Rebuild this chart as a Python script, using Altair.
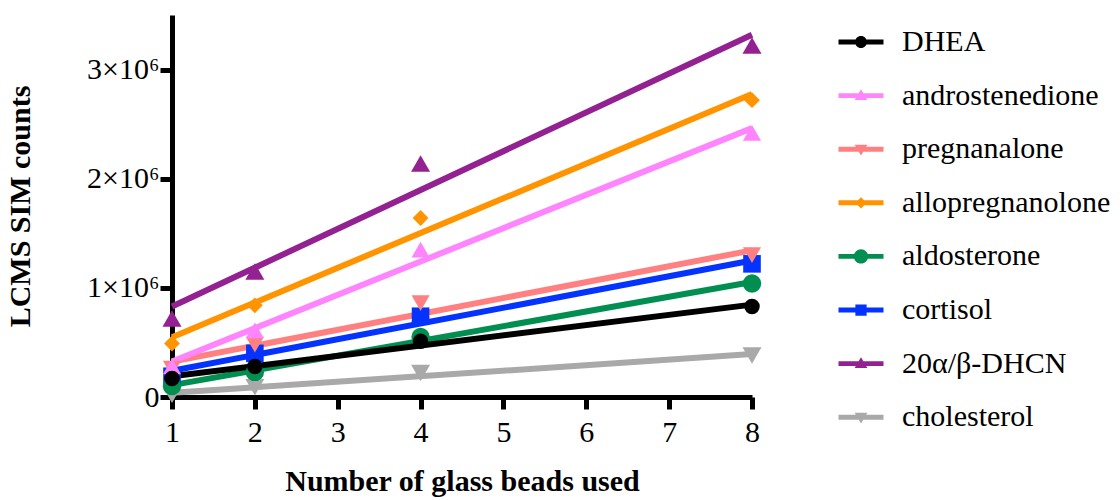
import altair as alt
import pandas as pd

# ---- data ----
series = ["DHEA", "androstenedione", "pregnanalone", "allopregnanolone",
          "aldosterone", "cortisol", "20α/β-DHCN", "cholesterol"]
beads = [1, 2, 4, 8]
dhea = [170000, 280000, 510000, 830000]
androstenedione = [280000, 610000, 1350000, 2420000]
pregnanalone = [260000, 480000, 860000, 1300000]
allopregnanolone = [490000, 840000, 1640000, 2720000]
aldosterone = [100000, 230000, 550000, 1040000]
cortisol = [190000, 400000, 740000, 1220000]
dhcn = [720000, 1150000, 2140000, 3220000]
cholesterol = [20000, 90000, 220000, 380000]
values = [dhea, androstenedione, pregnanalone, allopregnanolone,
          aldosterone, cortisol, dhcn, cholesterol]

x_ticks = [1, 2, 3, 4, 5, 6, 7, 8]
y_ticks = [0, 1000000, 2000000, 3000000]

# ---- styles ----
colors = ["#000000", "#FF85FF", "#FF8080", "#FF9300",
          "#008F51", "#0433FF", "#942192", "#A9A9A9"]
shapes = ["circle", "triangle-up", "triangle-down", "diamond",
          "circle", "square", "triangle-up", "triangle-down"]
sizes = [240, 330, 330, 250, 340, 310, 360, 360]

LINE = "M-3,-0.33H3V0.33H-3Z"
def circ(r):
    return f"M-{r},0A{r},{r} 0 1,1 {r},0A{r},{r} 0 1,1 -{r},0Z"
TRI_UP = "M0,-0.85L0.85,0.6L-0.85,0.6Z"
TRI_DN = "M0,0.85L-0.85,-0.6L0.85,-0.6Z"
DIAM = "M0,-0.75L0.75,0L0,0.75L-0.75,0Z"
SQR = "M-0.75,-0.75H0.75V0.75H-0.75Z"
legend_paths = [LINE + circ(0.8), LINE + TRI_UP, LINE + TRI_DN, LINE + DIAM,
                LINE + circ(0.95), LINE + SQR, LINE + TRI_UP, LINE + TRI_DN]

rows = []
for s, vals in zip(series, values):
    for b, v in zip(beads, vals):
        rows.append({"series": s, "beads": b, "counts": v})
df = pd.DataFrame(rows)

FONT = "Liberation Serif"

x_enc = alt.X("beads:Q",
              scale=alt.Scale(domain=[1, 8], nice=False, zero=False),
              axis=alt.Axis(values=x_ticks, format="d", title="Number of glass beads used",
                            labelFlush=False, labelOverlap=False, labelPadding=8,
                            titleY=93, titleBaseline="alphabetic"))
y_enc = alt.Y("counts:Q",
              scale=alt.Scale(domain=[0, 3500000], nice=False),
              axis=alt.Axis(values=y_ticks, title="LCMS SIM counts",
                            labelExpr="datum.value == 0 ? '0' : format(datum.value/1000000, 'd') + '×10⁶'",
                            labelFlush=False, labelOverlap=False, labelPadding=1,
                            titleX=-152, titleY=191, titleBaseline="middle", titleAngle=-90,
                            titleAlign="center"))

legend = alt.Legend(title=None, orient="none", legendX=674, legendY=12,
                    symbolSize=225, labelOffset=26, padding=0,
                    rowPadding=23.6, symbolStrokeWidth=0,
                    symbolOpacity=1, labelFontSize=30,
                    labelFont=FONT, labelColor="black",
                    labelBaseline="middle", labelLimit=400)

layers = []
# regression lines (drawn in reverse order so DHEA ends on top)
for s, c in reversed(list(zip(series, colors))):
    layers.append(
        alt.Chart(df).transform_filter(alt.datum.series == s)
        .transform_regression("beads", "counts")
        .mark_line(color=c, strokeWidth=6)
        .encode(x=x_enc, y=y_enc)
    )
# points
for s, c, sh, sz in reversed(list(zip(series, colors, shapes, sizes))):
    layers.append(
        alt.Chart(df).transform_filter(alt.datum.series == s)
        .mark_point(color=c, shape=sh, size=sz, filled=True, opacity=1)
        .encode(x=x_enc, y=y_enc)
    )
# legend-only layer (its marks are filtered out; only the legend remains)
layers.append(
    alt.Chart(df).transform_filter("datum.beads > 100")
    .mark_point(filled=True, opacity=1, size=225)
    .encode(
        x=x_enc, y=y_enc,
        color=alt.Color("series:N", scale=alt.Scale(domain=series, range=colors), legend=legend),
        shape=alt.Shape("series:N", scale=alt.Scale(domain=series, range=legend_paths),
                        legend=legend),
    )
)

chart = alt.layer(*layers).properties(
    width=580, height=382,
    autosize=alt.AutoSizeParams(type="none"),
    padding={"left": 172, "top": 15, "right": 368, "bottom": 103},
).configure_view(stroke=None).configure_axis(
    grid=False, domainColor="black", domainWidth=5, tickColor="black", tickWidth=5,
    tickSize=12, labelFont=FONT, labelFontSize=30, labelColor="black",
    titleFont=FONT, titleFontSize=30, titleFontWeight="bold", titleColor="black",
).configure_legend(
    labelFont=FONT, labelFontSize=30, labelColor="black", labelLimit=400,
)

chart.save("out.html", embed_options={"renderer": "svg", "actions": False})
